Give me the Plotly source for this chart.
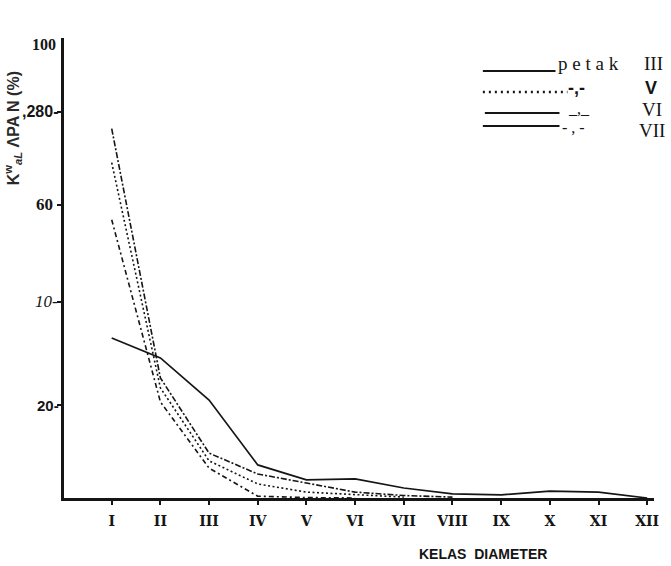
import plotly.graph_objects as go

# ---------------- data ----------------
categories = ["I", "II", "III", "IV", "V", "VI", "VII", "VIII", "IX", "X", "XI", "XII"]
petak_III = [35.3, 30.9, 21.6, 7.3, 4.0, 4.2, 2.2, 0.9, 0.7, 1.5, 1.3, 0.0]
petak_V = [74.0, 24.3, 8.2, 3.1, 1.3, 0.7, 0.2, None, None, None, None, None]
petak_VI = [81.5, 26.5, 9.9, 5.3, 3.3, 1.3, 0.55, 0.2, None, None, None, None]
petak_VII = [61.4, 21.2, 6.6, 0.4, 0.1, 0.0, None, None, None, None, None, None]

ytick_vals = [100, 85.2, 64.7, 43.3, 20.5]
ytick_text = ["100", ",280-", "60", "10-", "20-"]

x_title = "KELAS&nbsp;&nbsp;DIAMETER"
y_title = "K<sup>w</sup><sub><i>aL</i></sub> ΛPA N (%)"

legend_labels = ["III", "V", "VI", "VII"]

# ---------------- figure ----------------
W, H = 671, 566
ML, MR, MT, MB = 64, 14, 38, 68
PW, PH = W - ML - MR, H - MT - MB

INK = "#151515"

fig = go.Figure()
fig.add_trace(go.Scatter(x=categories, y=petak_III, mode="lines", name="petak III",
                         line=dict(color=INK, width=1.7)))
fig.add_trace(go.Scatter(x=categories, y=petak_V, mode="lines", name="V",
                         line=dict(color=INK, width=1.6, dash="2px,2.5px")))
fig.add_trace(go.Scatter(x=categories, y=petak_VI, mode="lines", name="VI",
                         line=dict(color=INK, width=1.6, dash="6px,2px,2px,2px")))
fig.add_trace(go.Scatter(x=categories, y=petak_VII, mode="lines", name="VII",
                         line=dict(color=INK, width=1.6, dash="5px,3px,2px,3px")))


def pp(px, py):
    """pixel -> paper coordinates"""
    return (px - ML) / PW, ((MT + PH) - py) / PH


annotations = []
shapes = []

# y tick labels (mixed fonts as in the scan)
ytick_fonts = [
    dict(family="Liberation Serif", size=16, color=INK),
    dict(family="Liberation Sans", size=16, color=INK),
    dict(family="Liberation Serif", size=17, color=INK),
    dict(family="Liberation Serif", size=17, color=INK),
    dict(family="Liberation Sans", size=15, color=INK),
]
ytick_fmt = ["<b>{}</b>", "<b>{}</b>", "<b>{}</b>", "<i>{}</i>", "<b>{}</b>"]
ytick_shift = [-6, -4, -9, -4, -3]
for v, t, f, fm, sh in zip(ytick_vals, ytick_text, ytick_fonts, ytick_fmt, ytick_shift):
    annotations.append(dict(x=0, xref="paper", y=v, yref="y", text=fm.format(t),
                            xanchor="right", yanchor="middle", showarrow=False,
                            xshift=sh, font=f))

# axis titles
tx, ty = pp(485, 554)
annotations.append(dict(x=tx, y=ty, xref="paper", yref="paper", text="<b>" + x_title + "</b>",
                        showarrow=False, xanchor="center", yanchor="middle",
                        font=dict(family="Liberation Sans", size=14, color=INK)))
tx, ty = pp(13, 128)
annotations.append(dict(x=tx, y=ty, xref="paper", yref="paper", text="<b>" + y_title + "</b>",
                        showarrow=False, xanchor="center", yanchor="middle", textangle=-90,
                        font=dict(family="Liberation Sans", size=16, color="#2a2a2a")))

# legend (hand drawn in the scan)
def leg_line(x0, x1, y, dash="solid", width=2.0):
    a = pp(x0, y)
    b = pp(x1, y)
    shapes.append(dict(type="line", xref="paper", yref="paper", x0=a[0], y0=a[1],
                       x1=b[0], y1=b[1], line=dict(color=INK, width=width, dash=dash)))


def leg_text(x, y, text, family, size):
    a = pp(x, y)
    annotations.append(dict(x=a[0], y=a[1], xref="paper", yref="paper", text=text,
                            showarrow=False, xanchor="left", yanchor="middle",
                            font=dict(family=family, size=size, color=INK)))


leg_line(485, 558, 71)
leg_text(558, 63, "p e t a k", "Liberation Serif", 19)
leg_text(645, 63, legend_labels[0], "Liberation Serif", 19)

leg_line(485, 570, 92, dash="2px,4px", width=2.5)
leg_text(569, 88, "<b>-,-</b>", "Liberation Sans", 18)
leg_text(646, 88, "<b>" + legend_labels[1] + "</b>", "Liberation Sans", 18)

leg_line(487, 562, 113)
leg_text(569, 108, "_,_", "Liberation Serif", 16)
leg_text(643, 109, legend_labels[2], "Liberation Serif", 19)

leg_line(485, 562, 126)
leg_text(563, 128, "- , -", "Liberation Serif", 16)
leg_text(640, 130, legend_labels[3], "Liberation Serif", 19)

fig.update_layout(
    width=W, height=H,
    margin=dict(l=ML, r=MR, t=MT, b=MB),
    paper_bgcolor="white", plot_bgcolor="white",
    showlegend=False,
    annotations=annotations,
    shapes=shapes,
    xaxis=dict(type="category", categoryorder="array", categoryarray=categories,
               range=[-0.98, 11.14], showgrid=False, zeroline=False,
               showline=True, linewidth=3, linecolor=INK,
               ticks="outside", ticklen=4, tickwidth=1.5, tickcolor=INK,
               ticklabelstandoff=4,
               tickprefix="<b>", ticksuffix="</b>",
               tickfont=dict(family="DejaVu Serif", size=14, color=INK)),
    yaxis=dict(range=[0, 101.5], showgrid=False, zeroline=False,
               showline=True, linewidth=3, linecolor=INK,
               tickmode="array", tickvals=ytick_vals[1:], ticks="outside",
               ticklen=4, tickwidth=1.5, tickcolor=INK, showticklabels=False),
)

fig.write_html("out.html", config={"displayModeBar": False},
               post_script="document.body.style.margin='0';document.body.style.padding='0';")
